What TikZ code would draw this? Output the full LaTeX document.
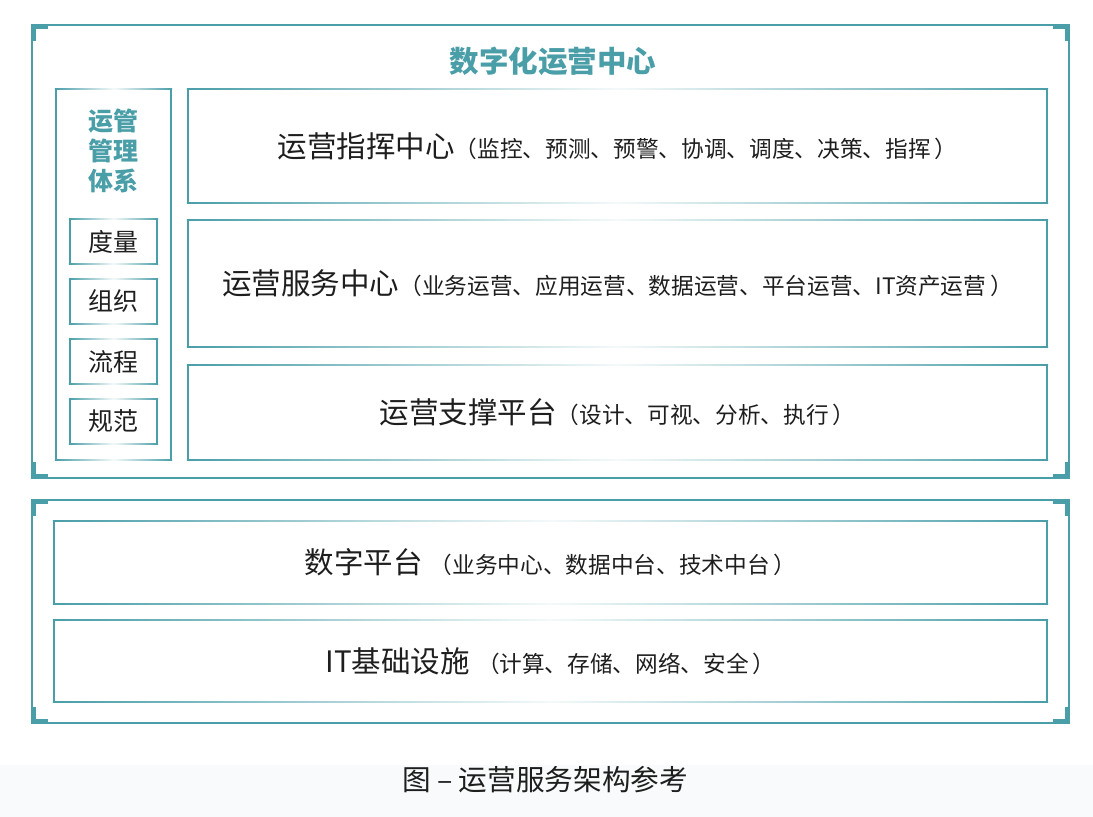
\documentclass[tikz,border=0pt]{standalone}
\usepackage{fontspec}
\setmainfont{Noto Sans CJK SC}
\usepackage{tikz}

\definecolor{teal1}{RGB}{74,158,168}
\definecolor{capbg}{RGB}{248,250,251}
\definecolor{ink}{RGB}{30,30,30}

\newcommand{\maintxt}[1]{{\fontsize{16.8pt}{20pt}\selectfont #1}}
\newcommand{\subtxt}[1]{{\fontsize{12.9pt}{15pt}\selectfont #1}}

\tikzset{
  box/.style={inner sep=0pt, outer sep=0pt, text=ink},
  side/.style={draw=teal1, line width=1.2pt},
  frame/.style={draw=teal1, line width=1.2pt},
  corner/.style={draw=teal1, line width=2.4pt},
  lab/.style={text=teal1, font=\bfseries, inner sep=0pt},
  fade/.style={left color=teal1, right color=teal1, middle color=teal1!6}
}

\begin{document}
\begin{tikzpicture}[x=0.02cm, y=-0.02cm]
			\useasboundingbox (0,0) rectangle (1093,817);
			\fill[capbg] (0,765) rectangle (1093,817);
			% outer frames
			\draw[frame] (32,25) rectangle (1069,478);
			\draw[frame] (32,500) rectangle (1069,723);
			\foreach \xa/\ya/\xb/\yb in {32/25/1069/478, 32/500/1069/723}{
				\draw[corner] (\xa+1.5,\ya+16) -- (\xa+1.5,\ya+1.5) -- (\xa+16,\ya+1.5);
				\draw[corner] (\xb-1.5,\ya+16) -- (\xb-1.5,\ya+1.5) -- (\xb-16,\ya+1.5);
				\draw[corner] (\xa+1.5,\yb-16) -- (\xa+1.5,\yb-1.5) -- (\xa+16,\yb-1.5);
				\draw[corner] (\xb-1.5,\yb-16) -- (\xb-1.5,\yb-1.5) -- (\xb-16,\yb-1.5);
			}
			\node[lab, font=\bfseries\fontsize{16.8pt}{20pt}\selectfont] (title) at (553,61) {数字化运营中心};
			% left column
			\node[box, minimum width=115*0.02cm, minimum height=371*0.02cm] (mgmt) at (113.5,274.5) {};
			\node[lab, align=center, font=\bfseries\fontsize{14.2pt}{17pt}\selectfont] (mgmtlab) at (113.5,151) {运管\\管理\\体系};
			\foreach \t [count=\i] in {度量,组织,流程,规范}{
				\node[box, minimum width=87*0.02cm, minimum height=45*0.02cm, font=\fontsize{14.2pt}{17pt}\selectfont] (sub\i) at (113.5,181.5+60*\i) {\t};
			}
			% right boxes
			\node[box, minimum width=859*0.02cm, minimum height=114*0.02cm] (cmd) at (617.5,146)
				{\maintxt{运营指挥中心}\subtxt{（监控、预测、预警、协调、调度、决策、指挥\,）}};
			\node[box, minimum width=859*0.02cm, minimum height=127*0.02cm] (svc) at (617.5,283.5)
				{\maintxt{运营服务中心}\subtxt{（业务运营、应用运营、数据运营、平台运营、IT资产运营\,）}};
			\node[box, minimum width=859*0.02cm, minimum height=95*0.02cm] (sup) at (617.5,412.5)
				{\maintxt{运营支撑平台}\subtxt{（设计、可视、分析、执行\,）}};
			% bottom
			\node[box, minimum width=993*0.02cm, minimum height=83*0.02cm] (dig) at (550.5,562.5)
				{\maintxt{数字平台}\hspace{4pt}\subtxt{（业务中心、数据中台、技术中台\,）}};
			\node[box, minimum width=993*0.02cm, minimum height=82*0.02cm] (infra) at (550.5,661)
				{\maintxt{IT基础设施}\hspace{4pt}\subtxt{（计算、存储、网络、安全\,）}};
			% box borders: solid sides, faded top and bottom
			\foreach \n in {mgmt,sub1,sub2,sub3,sub4,cmd,svc,sup,dig,infra}{
				\draw[side] (\n.north west) -- (\n.south west) (\n.north east) -- (\n.south east);
				\shade[fade] ([xshift=-0.6pt,yshift=0.5pt]\n.north west) rectangle ([xshift=0.6pt,yshift=-0.5pt]\n.north east);
				\shade[fade] ([xshift=-0.6pt,yshift=0.5pt]\n.south west) rectangle ([xshift=0.6pt,yshift=-0.5pt]\n.south east);
			}
			\node[text=ink, inner sep=0pt, font=\fontsize{16.3pt}{19pt}\selectfont] (cap) at (545,780) {图 – 运营服务架构参考};
\end{tikzpicture}
\end{document}
